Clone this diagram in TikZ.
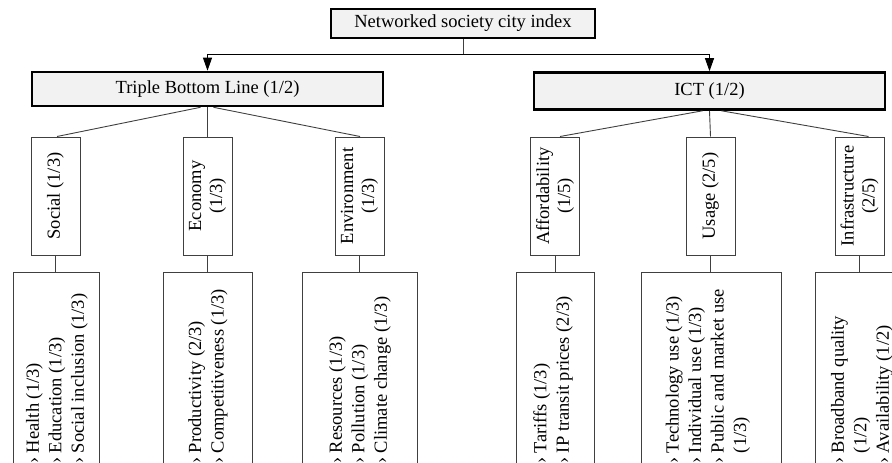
\documentclass[tikz,border=0pt]{standalone}
\usepackage{fontspec}
\setmainfont{Liberation Serif}
\usetikzlibrary{arrows.meta,calc}
\definecolor{boxfill}{HTML}{F2F2F2}
\definecolor{linegray}{HTML}{404040}
\tikzset{
 head/.style={draw=black, line width=2.6pt, fill=boxfill, inner sep=0pt, font=\fontsize{18.5}{22}\selectfont},
 midbox/.style={draw=linegray, line width=1pt, fill=white, rotate=90, minimum width=118pt, minimum height=49pt, inner sep=0pt, align=center, font=\fontsize{18.5}{21}\selectfont},
 leafbox/.style={draw=linegray, line width=1pt, inner sep=0pt, minimum height=208pt},
 leaftext/.style={rotate=90, anchor=west, inner sep=0pt, align=left, font=\fontsize{18.5}{22.5}\selectfont},
 conn/.style={draw=linegray, line width=0.9pt},
 arr/.style={draw=black, line width=0.9pt, -{Triangle[length=13pt,width=9pt]}}
}
\begin{document}
\begin{tikzpicture}[x=1pt,y=1pt]
\useasboundingbox (0,0) rectangle (892,-463);
\clip (0,0) rectangle (892,-463);
% top levels
\node[head, minimum width=264pt, minimum height=29pt] (top) at (463,-23.5) {Networked society city index};
\node[head, minimum width=351pt, minimum height=34pt] (tbl) at (207.5,-89) {Triple Bottom Line (1/2)};
\node[head, minimum width=351pt, minimum height=37pt] (ict) at (709.5,-91) {ICT (1/2)};
% middle boxes
\node[midbox] (soc) at (55.5,-196) {Social (1/3)};
\node[midbox] (eco) at (207.5,-196) {Economy\\(1/3)};
\node[midbox] (env) at (359.5,-196) {Environment\\(1/3)};
\node[midbox] (aff) at (555,-196) {Affordability\\(1/5)};
\node[midbox] (usa) at (710.5,-196) {Usage (2/5)};
\node[midbox] (inf) at (859.5,-196) {Infrastructure\\(2/5)};
% leaf boxes
\node[leafbox, minimum width=86pt] (l1) at (56,-376) {};
\node[leafbox, minimum width=89pt] (l2) at (207.5,-376) {};
\node[leafbox, minimum width=115pt] (l3) at (359.5,-376) {};
\node[leafbox, minimum width=78pt] (l4) at (555,-376) {};
\node[leafbox, minimum width=140pt] (l5) at (711,-376) {};
\node[leafbox, minimum width=89pt] (l6) at (859.5,-376) {};
% leaf texts
\node[leaftext] (t1) at (57,-464) {› Health (1/3)\\› Education (1/3)\\› Social inclusion (1/3)};
\node[leaftext] (t2) at (208,-464) {› Productivity (2/3)\\› Competitiveness (1/3)};
\node[leaftext] (t3) at (360,-464) {› Resources (1/3)\\› Pollution (1/3)\\› Climate change (1/3)};
\node[leaftext] (t4) at (553,-464) {› Tariffs (1/3)\\› IP transit prices (2/3)};
\node[leaftext] (t5) at (708,-464) {› Technology use (1/3)\\› Individual use (1/3)\\› Public and market use\\\hphantom{› }(1/3)};
\node[leaftext] (t6) at (862,-464) {› Broadband quality\\\hphantom{› }(1/2)\\› Availability (1/2)};
% connectors
\coordinate (j) at (463,-54);
\draw[conn] (top.south) -- (j);
\draw[arr] (j) -| (tbl.north);
\draw[arr] (j) -| (ict.north);
\draw[conn] ($(tbl.south)+(-7,0)$) -- ($(soc.east)+(1.5,0)$);
\draw[conn] (tbl.south) -- (eco.east);
\draw[conn] ($(tbl.south)+(6,0)$) -- ($(env.east)+(0.5,0)$);
\draw[conn] ($(ict.south)+(-7,0)$) -- ($(aff.east)+(5,0)$);
\draw[conn] (ict.south) -- (usa.east);
\draw[conn] ($(ict.south)+(12,0)$) -- ($(inf.east)+(9,0)$);
\draw[conn] (soc.west) -- (soc.west |- l1.north);
\draw[conn] (eco.west) -- (eco.west |- l2.north);
\draw[conn] (env.west) -- (env.west |- l3.north);
\draw[conn] (aff.west) -- (aff.west |- l4.north);
\draw[conn] (usa.west) -- (usa.west |- l5.north);
\draw[conn] (inf.west) -- (inf.west |- l6.north);
\end{tikzpicture}
\end{document}
